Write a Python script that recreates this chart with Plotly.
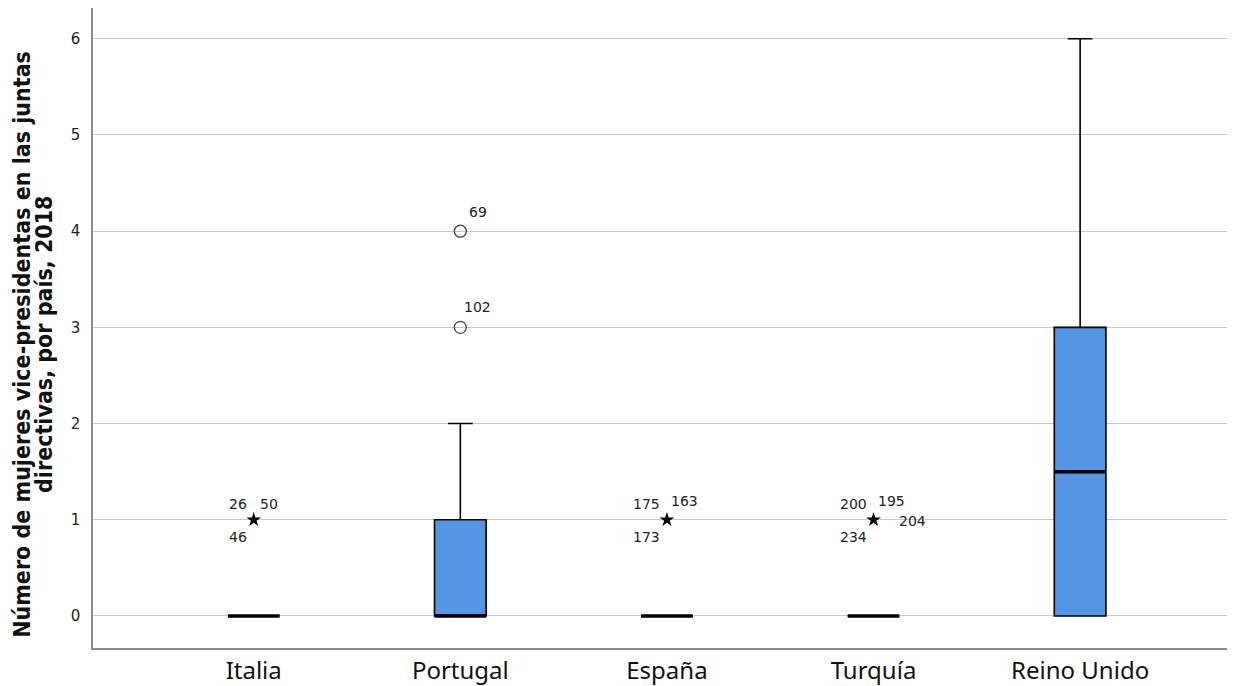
import plotly.graph_objects as go

# ---- data ----
countries = ["Italia", "Portugal", "España", "Turquía", "Reino Unido"]
q1 = [0, 0, 0, 0, 0]
median = [0, 0, 0, 0, 1.5]
q3 = [0, 1, 0, 0, 3]
lower_fence = [0, 0, 0, 0, 0]
upper_fence = [0, 2, 0, 0, 6]

# outliers (circles)
out_country = [1, 1]
out_value = [4, 3]
out_label = ["69", "102"]
out_label_pos = ["ur_far", "ur_near"]

# extremes (stars)
ext_country = [0, 2, 3]
ext_value = [1, 1, 1]
ext_labels = [["26", "50", "46"], ["175", "163", "173"], ["200", "195", "204", "234"]]
ext_label_pos = [["ul", "ur_low", "ll"], ["ul", "ur", "ll"], ["ul", "ur", "r", "ll"]]

y_ticks = [0, 1, 2, 3, 4, 5, 6]
y_title_lines = ["Número de mujeres vice-presidentas en las juntas",
                 "directivas, por país, 2018"]

BOX_W = 0.25
idx = list(range(len(countries)))

fig = go.Figure()

fig.add_trace(go.Box(
    x=idx, q1=q1, median=median, q3=q3,
    lowerfence=lower_fence, upperfence=upper_fence,
    width=BOX_W, whiskerwidth=0.48,
    fillcolor="#5596E3",
    line=dict(color="black", width=1.6),
    boxpoints=False, showlegend=False, hoverinfo="skip",
))

# thick median lines
mx, my = [], []
for i, m in zip(idx, median):
    mx += [i - BOX_W / 2, i + BOX_W / 2, None]
    my += [m, m, None]
fig.add_trace(go.Scatter(x=mx, y=my, mode="lines",
                         line=dict(color="black", width=3.5),
                         showlegend=False, hoverinfo="skip"))

# outliers
fig.add_trace(go.Scatter(x=out_country, y=out_value, mode="markers",
                         marker=dict(symbol="circle-open", size=12,
                                     color="#444", line=dict(width=1.3)),
                         showlegend=False, hoverinfo="skip"))
# extremes
fig.add_trace(go.Scatter(x=ext_country, y=ext_value, mode="markers",
                         marker=dict(symbol="star", size=11, color="black"),
                         showlegend=False, hoverinfo="skip"))

lab_font = dict(family="DejaVu Sans", size=14, color="#222")
shift = {
    "ul": dict(xanchor="right", yanchor="bottom", xshift=-5, yshift=6),
    "ur": dict(xanchor="left", yanchor="bottom", xshift=2, yshift=9),
    "ur_low": dict(xanchor="left", yanchor="bottom", xshift=4, yshift=6),
    "ll": dict(xanchor="right", yanchor="top", xshift=-5, yshift=-7),
    "r": dict(xanchor="left", yanchor="middle", xshift=23, yshift=-1),
    "ur_far": dict(xanchor="left", yanchor="bottom", xshift=7, yshift=9),
    "ur_near": dict(xanchor="left", yanchor="bottom", xshift=2, yshift=10),
}
for c, v, t, p in zip(out_country, out_value, out_label, out_label_pos):
    fig.add_annotation(x=c, y=v, text=t, showarrow=False, font=lab_font, **shift[p])
for c, v, labs, poss in zip(ext_country, ext_value, ext_labels, ext_label_pos):
    for t, p in zip(labs, poss):
        fig.add_annotation(x=c, y=v, text=t, showarrow=False, font=lab_font, **shift[p])

title_font = dict(family="Liberation Sans Narrow, DejaVu Sans Condensed, sans-serif",
                  size=23, color="#111")
for line, xp in zip(y_title_lines, [-0.0625, -0.0430]):
    fig.add_annotation(
        xref="paper", yref="paper", x=xp, y=0.475,
        text="<b>" + line + "</b>",
        textangle=-90, showarrow=False, xanchor="center", yanchor="middle",
        font=title_font,
    )

fig.update_layout(
    width=1227, height=678,
    margin=dict(l=85, r=2, t=0, b=38),
    plot_bgcolor="white", paper_bgcolor="white",
    xaxis=dict(range=[-0.778, 4.74], tickvals=idx, ticktext=countries,
               showgrid=False, zeroline=False, showline=True,
               linecolor="#8c8c8c", linewidth=2, ticks="",
               tickfont=dict(family="Noto Sans", size=24, color="#111")),
    yaxis=dict(range=[-0.333, 6.32], tickvals=y_ticks,
               showgrid=True, gridcolor="#c8c8c8", gridwidth=1,
               zeroline=False, showline=True, linecolor="#8c8c8c", linewidth=1.5,
               ticks="", ticklabelstandoff=8,
               tickfont=dict(family="DejaVu Sans", size=15, color="#222")),
)

fig.write_html("out.html")
